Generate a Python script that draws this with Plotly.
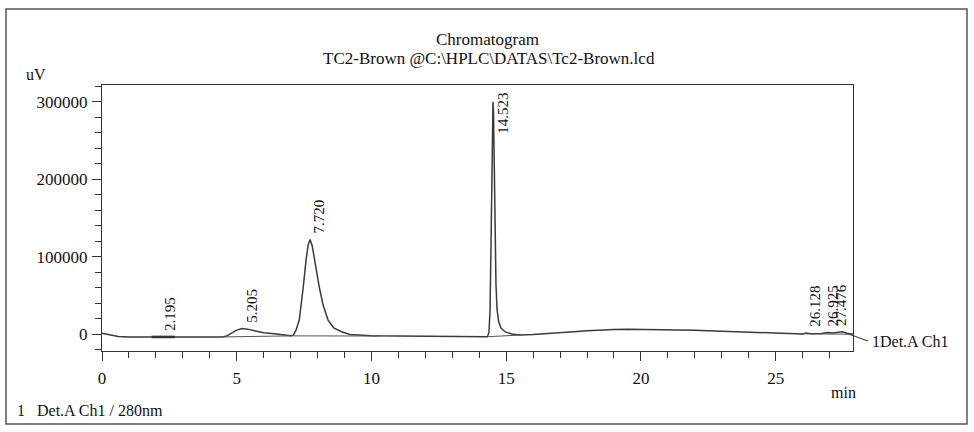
import plotly.graph_objects as go

# ---- data ----
time_min = [0.0, 0.3, 0.6, 1.0, 2.0, 3.0, 4.0, 4.45, 4.6, 4.8, 5.0, 5.2, 5.4, 5.7, 6.0, 6.4, 6.8, 7.0,
            7.1, 7.2, 7.32, 7.4, 7.47, 7.57, 7.65, 7.72, 7.8, 7.87, 7.95, 8.06, 8.2, 8.39, 8.6, 8.89,
            9.2, 9.6, 10.0, 11.0, 12.0, 13.0, 14.0, 14.3, 14.36, 14.4, 14.43, 14.46, 14.49, 14.51,
            14.53, 14.56, 14.59, 14.62, 14.66, 14.72, 14.8, 14.95, 15.2, 15.5, 16.0, 16.5, 17.0,
            17.5, 18.0, 18.5, 19.0, 19.5, 20.0, 21.0, 22.0, 23.0, 24.0, 25.0, 25.8, 26.0, 26.128,
            26.3, 26.7, 26.925, 27.1, 27.3, 27.476, 27.65, 27.87]
signal_uv = [900, -1500, -3200, -3800, -3900, -3900, -3900, -3800, -3000, 1000, 5000, 7000, 6300,
             3800, 1600, 200, -1200, -2300,
             -1500, 5000, 18000, 38000, 61000, 95000, 115000, 122000, 114000, 100000, 82000, 61000,
             38000, 18000, 8000, 3000,
             -500, -1800, -2300, -2700, -3000, -3200, -3400, -3500, 2000, 30000, 100000, 200000,
             280000, 300000,
             285000, 200000, 120000, 65000, 32000, 16000, 8000, 3000, 0, -1200, -800, 200, 1500,
             3000, 4300, 5300, 5900, 6100, 6000, 5500, 4700, 3500, 2200, 1200, 300, 100, 1200,
             300, 600, 2000, 1200, 1800, 3000, 1000, -300]

# integration baselines (None separates segments)
base_t = [4.4, 7.04, None, 7.04, 10.3, None, 14.3, 15.6, None, 25.8, 27.87]
base_v = [-3800, -2400, None, -2400, -2600, None, -3500, -1200, None, 300, -300]
mark_t = [1.84, 2.7]
mark_v = [-3800, -3800]

# peak labels
peak_rt = [2.195, 5.205, 7.720, 14.523, 26.128, 26.925, 27.476]
peak_labels = ["2.195", "5.205", "7.720", "14.523", "26.128", "26.925", "27.476"]
peak_top = [-3800, 7000, 122000, 300000, 1200, 2000, 3000]

x_range = [0, 27.87]
y_range = [-21950, 321570]

FONT = "Liberation Serif, Times New Roman, serif"
INK = "#111111"
LINE = "#333333"

fig = go.Figure()
fig.add_trace(go.Scatter(x=time_min, y=signal_uv, mode="lines",
                         line=dict(color="#3a3a3a", width=1.5), showlegend=False))
fig.add_trace(go.Scatter(x=base_t, y=base_v, mode="lines", connectgaps=False,
                         line=dict(color="#555555", width=1), showlegend=False))
fig.add_trace(go.Scatter(x=mark_t, y=mark_v, mode="lines",
                         line=dict(color="#333333", width=2.6), showlegend=False))

W, H = 974, 432
L, R, T, B = 102, 121, 85, 81
pw, ph = W - L - R, H - T - B


def px(xp):
    return (xp - L) / pw


def py(yp):
    return (H - B - yp) / ph


ann = []
shifts = [9, 9, 8, 9, 9, 5, -2]
for rt, lab, top, xs in zip(peak_rt, peak_labels, peak_top, shifts):
    if top > 250000:
        ann.append(dict(x=rt, y=y_range[1], xref="x", yref="y", text=lab, textangle=-90,
                        showarrow=False, xanchor="center", yanchor="top", xshift=xs, yshift=-6,
                        font=dict(family=FONT, size=15, color=INK)))
    else:
        ann.append(dict(x=rt, y=top, xref="x", yref="y", text=lab, textangle=-90,
                        showarrow=False, xanchor="center", yanchor="bottom", xshift=xs, yshift=4,
                        font=dict(family=FONT, size=15, color=INK)))

texts = [
    ("Chromatogram", px(487.5), py(39), "center", 17),
    ("TC2-Brown @C:\\HPLC\\DATAS\\Tc2-Brown.lcd", px(489), py(58), "center", 17),
    ("uV", px(36), py(75), "center", 16),
    ("min", px(843), py(392), "center", 16),
    ("1\u00a0\u00a0\u00a0Det.A Ch1 / 280nm", px(15), py(411), "left", 16),
    ("1Det.A Ch1", px(870), py(341), "left", 16),
]
for t, x, y, xa, fs in texts:
    ann.append(dict(x=x, y=y, xref="paper", yref="paper", text=t, showarrow=False,
                    xanchor=xa, yanchor="middle", font=dict(family=FONT, size=fs, color=INK)))

shapes = [
    dict(type="rect", xref="paper", yref="paper", x0=px(6), x1=px(967), y0=py(424), y1=py(9),
         line=dict(color="#555555", width=1.5)),
    dict(type="line", xref="paper", yref="paper", x0=px(845), y0=py(332.7), x1=px(868), y1=py(341),
         line=dict(color="#444444", width=1.2)),
]

axis_common = dict(showgrid=False, zeroline=False, showline=True, linecolor=LINE, linewidth=1.3,
                   mirror=True, ticks="outside", ticklen=9, tickwidth=1.2, tickcolor=LINE,
                   tickfont=dict(family=FONT, size=17, color=INK))

fig.update_layout(
    width=W, height=H, autosize=False,
    margin=dict(l=L, r=R, t=T, b=B, pad=0),
    paper_bgcolor="white", plot_bgcolor="white",
    xaxis=dict(range=x_range, dtick=5, tick0=0, ticklabelstandoff=2,
               minor=dict(dtick=1, ticklen=6, tickcolor=LINE, ticks="outside"), **axis_common),
    yaxis=dict(range=y_range, dtick=100000, tick0=0, tickformat="d", ticklabelstandoff=1,
               minor=dict(dtick=20000, ticklen=6, tickcolor=LINE, ticks="outside"), **axis_common),
    annotations=ann,
    shapes=shapes,
)

fig.write_html("out.html")
